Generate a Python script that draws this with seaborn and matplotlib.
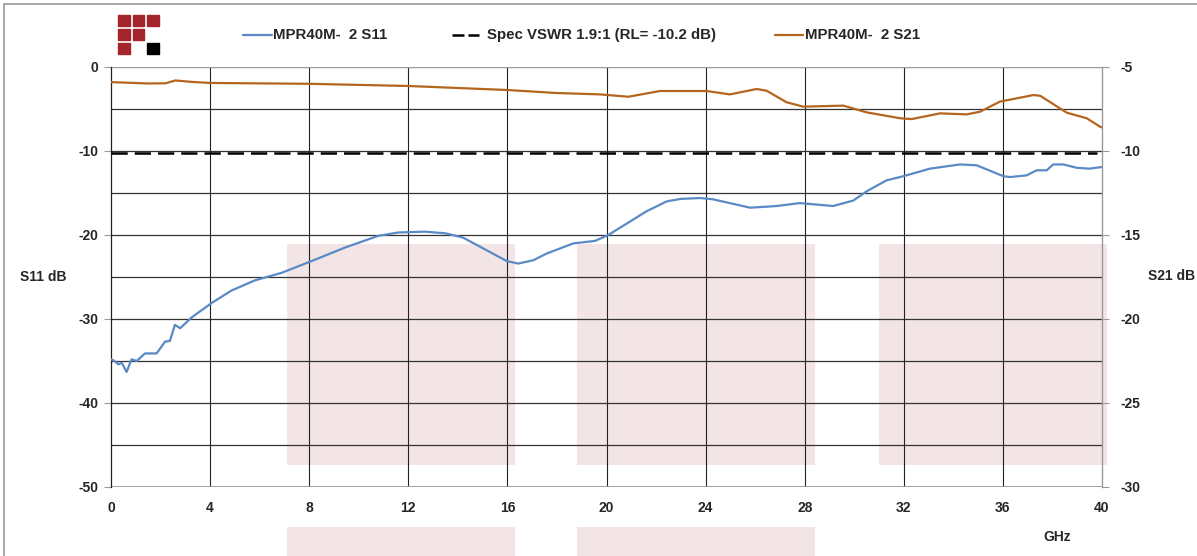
import matplotlib
matplotlib.use('Agg')
import matplotlib.pyplot as plt
from matplotlib.patches import Rectangle
from matplotlib.lines import Line2D
import seaborn as sns
import pandas as pd

# S11 (left axis, dB)
s11_ghz = [0, 0.09, 0.3, 0.43, 0.63, 0.83, 1.04, 1.37, 1.84, 2.18, 2.38, 2.58, 2.79, 3.26, 4.06,
           4.87, 5.81, 6.89, 8.1, 9.44, 10.79, 11.6, 12.67, 13.5, 14.2, 14.9, 15.97, 16.44, 17.05,
           17.59, 18.66, 19.54, 20.07, 20.95, 21.6, 22.43, 23.0, 23.77, 24.3, 25.8, 26.87, 27.8,
           29.15, 29.96, 30.5, 31.3, 31.98, 33.06, 34.27, 34.94, 36.02, 36.3, 36.96, 37.36, 37.77,
           38.03, 38.44, 38.98, 39.5, 40]
s11_db = [-34.8, -34.9, -35.4, -35.2, -36.3, -34.8, -35.0, -34.1, -34.1, -32.7, -32.6, -30.7, -31.1,
          -29.8, -28.1, -26.6, -25.4, -24.5, -23.1, -21.5, -20.1, -19.7, -19.6, -19.8, -20.3,
          -21.4, -23.1, -23.4, -23.0, -22.2, -21.0, -20.7, -20.0, -18.4, -17.2, -16.0, -15.7,
          -15.6, -15.75, -16.75, -16.55, -16.2, -16.55, -15.9, -14.8, -13.5, -13.0, -12.1, -11.6,
          -11.7, -13.0, -13.1, -12.9, -12.3, -12.3, -11.6, -11.6, -12.0, -12.1, -11.9]

# S21 (right axis, dB)
s21_ghz = [0, 1.5, 2.2, 2.6, 3.2, 4, 8, 12, 16, 18, 19.74, 20.88, 22.16, 24.04, 24.98, 26.06, 26.46,
           27.27, 27.94, 29.56, 30.5, 31.85, 32.32, 33.46, 34.54, 35.08, 35.88, 37.23, 37.5, 38.58,
           39.38, 39.92, 40]
s21_db = [-5.9, -5.98, -5.97, -5.8, -5.88, -5.95, -6.0, -6.13, -6.37, -6.55, -6.63, -6.77, -6.43,
          -6.43, -6.63, -6.31, -6.41, -7.1, -7.36, -7.3, -7.7, -8.05, -8.1, -7.76, -7.82, -7.66,
          -7.06, -6.67, -6.71, -7.72, -8.05, -8.55, -8.6]

spec_rl = -10.2
spec_label = 'Spec VSWR 1.9:1 (RL= -10.2 dB)'
s11_label = 'MPR40M-  2 S11'
s21_label = 'MPR40M-  2 S21'

# background band rectangles (GHz start, GHz end)
bands = [(7.1, 16.3), (18.8, 28.4), (31.0, 40.2)]

blue = '#5a8ac6'
brown = '#b5651d'
pink = '#f3e5e5'

sns.set_style('white')
plt.rcParams['font.family'] = ['Liberation Sans', 'DejaVu Sans']
plt.rcParams['font.weight'] = 'bold'
plt.rcParams['font.size'] = 10
plt.rcParams['axes.unicode_minus'] = False

W, H = 1197, 556
fig = plt.figure(figsize=(W / 100, H / 100), dpi=100)
ax = fig.add_axes([111 / W, 1 - 487 / H, 991 / W, 420 / H])
ax2 = ax.twinx()

for x0, x1 in bands:
    ax.add_patch(Rectangle((x0, -47.4), x1 - x0, 26.3, color=pink, zorder=0, lw=0, clip_on=False))
for x0, x1 in bands[:2]:
    ax.add_patch(Rectangle((x0, -58.5), x1 - x0, 3.7, color=pink, zorder=0, lw=0, clip_on=False))

ax.set_xlim(0, 40)
ax.set_ylim(-50, 0)
ax2.set_ylim(-30, -5)

for v in range(-45, 0, 5):
    ax.axhline(v, color='#333333', lw=0.9, zorder=1)
for v in range(4, 40, 4):
    ax.axvline(v, color='#222222', lw=0.8, zorder=1)
ax.axhline(-50, color='#999999', lw=2, zorder=1)
ax.axhline(0, color='#999999', lw=1, zorder=1)

ax.hlines(spec_rl, 0, 39.8, colors='black', linestyles=(0, (6.5, 2.8)), lw=1.8, zorder=3)

df11 = pd.DataFrame({'GHz': s11_ghz, 'dB': s11_db})
df21 = pd.DataFrame({'GHz': s21_ghz, 'dB': s21_db})
sns.lineplot(data=df11, x='GHz', y='dB', ax=ax, color=blue, lw=1.6, zorder=4)
sns.lineplot(data=df21, x='GHz', y='dB', ax=ax2, color=brown, lw=1.6, zorder=4)

ax.set_xlabel('')
ax.set_ylabel('')
ax2.set_xlabel('')
ax2.set_ylabel('')

ax.set_xticks(range(0, 41, 4))
ax.set_yticks(range(-50, 1, 10))
ax2.set_yticks(range(-30, -4, 5))
for a in (ax, ax2):
    for s in a.spines.values():
        s.set_visible(False)
ax.spines['left'].set_visible(True)
ax.spines['left'].set_color('#222222')
ax.spines['left'].set_linewidth(0.9)
ax2.spines['right'].set_visible(True)
ax2.spines['right'].set_color('#999999')
ax2.spines['right'].set_linewidth(1)

ax.tick_params(axis='y', length=5, color='#999999', pad=4, labelsize=10)
ax.tick_params(axis='x', length=0, pad=10, labelsize=10)
ax2.tick_params(axis='y', length=5, color='#999999', pad=8, labelsize=10)
for lab in ax.get_xticklabels() + ax.get_yticklabels() + ax2.get_yticklabels():
    lab.set_fontweight('bold')

fig.text(20 / W, 1 - 277 / H, 'S11 dB', ha='left', va='center', fontweight='bold', fontsize=10)
fig.text(1148 / W, 1 - 276 / H, 'S21 dB', ha='left', va='center', fontweight='bold', fontsize=10)
fig.text(1043 / W, 1 - 537 / H, 'GHz', ha='left', va='center', fontweight='bold', fontsize=10)

# legend, laid out by hand to match the original spacing
ly = 1 - 35 / H
fig.lines.append(Line2D([243 / W, 272 / W], [ly, ly], transform=fig.transFigure, color=blue, lw=1.6))
for d0, d1 in [(452, 464), (468, 479)]:
    fig.lines.append(Line2D([d0 / W, d1 / W], [ly, ly], transform=fig.transFigure, color='black',
                            lw=1.8, solid_capstyle='butt'))
fig.lines.append(Line2D([775 / W, 803 / W], [ly, ly], transform=fig.transFigure, color=brown, lw=1.6))
leg_font = dict(ha='left', va='center', fontweight='bold', fontsize=10.8)
fig.text(273 / W, ly, s11_label, **leg_font)
fig.text(487 / W, ly, spec_label, **leg_font)
fig.text(805 / W, ly, s21_label, **leg_font)

# logo squares
logo = [(0, 0, 'r'), (1, 0, 'r'), (2, 0, 'r'), (0, 1, 'r'), (1, 1, 'r'), (0, 2, 'r'), (2, 2, 'k')]
for c, r, k in logo:
    px = 118 + c * 14.5
    py = 15 + r * 14
    fig.patches.append(Rectangle((px / W, 1 - (py + 11) / H), 11.5 / W, 11 / H,
                                 transform=fig.transFigure,
                                 color='#a4262c' if k == 'r' else 'black'))

# outer frame
fig.patches.append(Rectangle((4 / W, -0.1), 1.2, 1 - 4 / H + 0.1, transform=fig.transFigure,
                             fill=False, edgecolor='#999999', lw=1.2))

fig.savefig('out.png', dpi=100)
